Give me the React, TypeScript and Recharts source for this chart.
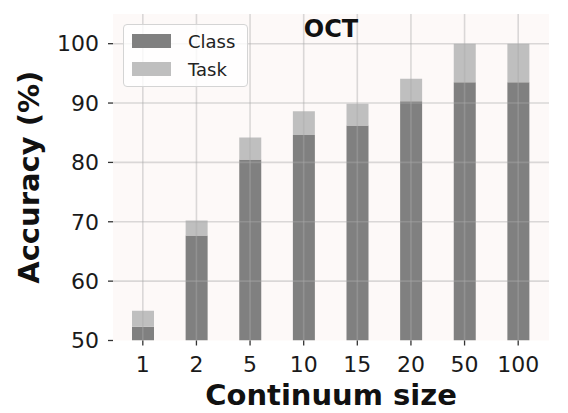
import React from 'react';
import { BarChart, Bar, XAxis, YAxis, CartesianGrid, Legend, ReferenceLine } from 'recharts';

const categories = ['1', '2', '5', '10', '15', '20', '50', '100'];
const classAcc = [52.3, 67.7, 80.5, 84.6, 86.2, 90.3, 93.5, 93.5];
const taskAcc = [55.0, 70.2, 84.2, 88.6, 89.9, 94.1, 100, 100];
const yTicks = [50, 60, 70, 80, 90, 100];

const data = categories.map((c, i) => ({
  name: c,
  Class: classAcc[i],
  Task: +(taskAcc[i] - classAcc[i]).toFixed(2),
}));

const FONT = '"DejaVu Sans", sans-serif';
const GRID = 'rgba(170,170,170,0.42)';

const LegendBox = (props: any) => {
  const { payload } = props;
  return (
    <div
      style={{
        width: 123,
        height: 61,
        border: '1px solid #d4d4d4',
        borderRadius: 4,
        background: 'rgba(255,255,255,0.8)',
        fontFamily: FONT,
        fontSize: 18,
        color: '#222',
        position: 'relative',
      }}
    >
      {(payload || []).map((p: any, i: number) => (
        <div key={p.value} style={{ position: 'absolute', left: 8, top: 5 + i * 28, height: 22, display: 'flex', alignItems: 'center' }}>
          <span style={{ display: 'inline-block', width: 39, height: 14, background: p.color, marginRight: 17 }} />
          <span>{p.value}</span>
        </div>
      ))}
    </div>
  );
};

export default function App() {
  return (
    <div style={{ position: 'absolute', left: 0, top: 0, width: 568, height: 413, background: '#fff' }}>
      <BarChart
        width={568}
        height={413}
        data={data}
        margin={{ top: 14, right: 19, left: 0, bottom: 0 }}
        barSize={22}
      >
        <CartesianGrid fill="#fdf9f8" stroke="none" horizontal={false} vertical={false} />
        <XAxis
          dataKey="name"
          height={72.5}
          padding={{ left: 3, right: 4 }}
          axisLine={false}
          tickSize={5}
          tickMargin={11}
          tickLine={{ stroke: '#333', strokeWidth: 1.3 }}
          tick={{ fontSize: 22, fill: '#1a1a1a', fontFamily: FONT }}
          interval={0}
          label={{
            content: (p: any) => {
              const vb = p.viewBox || {};
              return (
                <text
                  x={vb.x + vb.width / 2}
                  y={405}
                  textAnchor="middle"
                  fontFamily={FONT}
                  fontWeight="bold"
                  fontSize={29}
                  fill="#111"
                >
                  Continuum size
                </text>
              );
            },
          }}
        />
        <YAxis
          width={113}
          domain={[50, 105]}
          allowDataOverflow
          ticks={yTicks}
          axisLine={false}
          tickSize={5}
          tickMargin={9}
          tickLine={{ stroke: '#333', strokeWidth: 1.3 }}
          tick={{ fontSize: 22, fill: '#1a1a1a', fontFamily: FONT }}
          label={{
            content: (p: any) => {
              const vb = p.viewBox || {};
              const cy = vb.y + vb.height / 2;
              return (
                <text
                  x={39}
                  y={cy}
                  transform={`rotate(-90, 39, ${cy})`}
                  textAnchor="middle"
                  fontFamily={FONT}
                  fontWeight="bold"
                  fontSize={29}
                  fill="#111"
                >
                  Accuracy (%)
                </text>
              );
            },
          }}
        />
        <Bar dataKey="Class" stackId="a" fill="#808080" isAnimationActive={false} />
        <Bar dataKey="Task" stackId="a" fill="#bfbfbf" isAnimationActive={false} />
        {yTicks.slice(1).map((t) => (
          <ReferenceLine key={'h' + t} y={t} stroke={GRID} strokeWidth={1.6} />
        ))}
        {categories.map((c) => (
          <ReferenceLine key={'v' + c} x={c} stroke={GRID} strokeWidth={1.6} />
        ))}
        <Legend
          layout="horizontal"
          verticalAlign="middle"
          align="center"
          wrapperStyle={{ left: 123, top: 24, width: 'auto', height: 'auto' }}
          content={<LegendBox />}
        />
      </BarChart>
      <svg width={568} height={413} style={{ position: 'absolute', left: 0, top: 0, pointerEvents: 'none' }}>
        <text x={331} y={37} textAnchor="middle" fontFamily={FONT} fontWeight="bold" fontSize={24} fill="#111">
          OCT
        </text>
      </svg>
    </div>
  );
}
